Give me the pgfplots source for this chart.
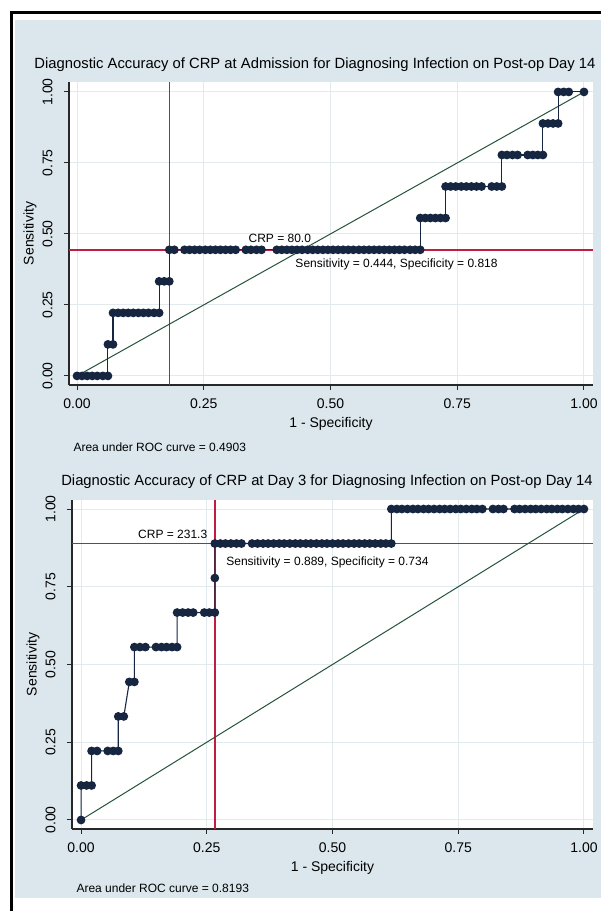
\documentclass[border=0pt]{standalone}
\usepackage{fontspec}
\setmainfont{Liberation Sans}
\usepackage{pgfplots}
\pgfplotsset{compat=1.18}
\definecolor{bgblue}{RGB}{219,231,237}
\definecolor{gridc}{RGB}{226,234,238}
\definecolor{rocnavy}{RGB}{22,38,64}
\definecolor{diagg}{RGB}{38,84,58}
\definecolor{refred}{RGB}{190,30,65}
\definecolor{axc}{RGB}{40,40,40}
\newcommand{\fs}[1]{\fontsize{#1}{#1}\selectfont}
\pgfplotsset{
  rocax/.style={
    scale only axis,
    axis x line*=bottom, axis y line*=left,
    axis line style={axc, line width=1.2pt},
    axis background/.style={fill=white},
    grid=major, grid style={gridc, line width=1pt},
    xtick={0,0.25,0.5,0.75,1}, xticklabels={0.00,0.25,0.50,0.75,1.00},
    ytick={0,0.25,0.5,0.75,1}, yticklabels={0.00,0.25,0.50,0.75,1.00},
    tick align=outside, major tick length=5pt,
    tick style={axc, line width=1pt},
    /pgf/number format/assume math mode=true,
    ticklabel style={font=\fs{14}},
    yticklabel style={rotate=90, anchor=south, yshift=8pt},
    xticklabel shift=5pt,
    xlabel={1 - Specificity}, ylabel={Sensitivity},
    every axis x label/.style={at={(rel axis cs:0.5,0)}, anchor=center, yshift=-38.5pt, font=\fs{14}},
    every axis y label/.style={at={(rel axis cs:0,0.5)}, anchor=center, xshift=-39pt, rotate=90, font=\fs{14}},
    clip=false,
  },
  roc/.style={color=rocnavy, line width=1.1pt, mark=*, mark size=3.8pt,
    mark options={fill=rocnavy, draw=rocnavy}},
}
\begin{document}
\begin{tikzpicture}
\useasboundingbox (0pt,0pt) rectangle (601pt,911pt);
\fill[white] (0pt,0pt) rectangle (601pt,911pt);
\fill[bgblue] (15pt,13pt) rectangle (601pt,891pt);
\draw[black, line width=3pt] (11pt,0pt) -- (11pt,898.5pt) -- (601pt,898.5pt);
\node[font=\fs{14.8}] at (315pt,846pt) {Diagnostic Accuracy of CRP at Admission for Diagnosing Infection on Post-op Day 14};
\node[font=\fs{12}, anchor=west] at (70pt,464pt) {Area under ROC curve = 0.4903};
\node[font=\fs{14.8}] at (327pt,429pt) {Diagnostic Accuracy of CRP at Day 3 for Diagnosing Infection on Post-op Day 14};
\node[font=\fs{12}, anchor=west] at (73pt,23pt) {Area under ROC curve = 0.8193};

% ---------- top axis ----------
\begin{axis}[rocax, at={(69pt,526pt)}, anchor=south west, width=524pt, height=303pt,
  xmin=-0.0158, xmax=1.0178, ymin=-0.032, ymax=1.035]
\addplot[color=refred, line width=1.4pt] coordinates {(0.182,-0.032) (0.182,1.035)};
\addplot[color=refred, line width=1.4pt] coordinates {(-0.0158,0.444) (1.0178,0.444)};
\addplot[color=diagg, line width=1pt] coordinates {(0,0) (1,1)};
\addplot[roc] coordinates {
(0.000,0) (0.010,0) (0.020,0) (0.030,0) (0.040,0) (0.051,0) (0.061,0)
(0.061,0.111) (0.071,0.111)
(0.071,0.222) (0.081,0.222) (0.091,0.222) (0.101,0.222) (0.111,0.222) (0.121,0.222) (0.131,0.222) (0.141,0.222) (0.152,0.222) (0.162,0.222)
(0.162,0.333) (0.172,0.333) (0.182,0.333)
(0.182,0.444) (0.192,0.444) (0.212,0.444) (0.222,0.444) (0.232,0.444) (0.242,0.444) (0.253,0.444) (0.263,0.444) (0.273,0.444) (0.283,0.444) (0.293,0.444) (0.303,0.444) (0.313,0.444)
(0.333,0.444) (0.343,0.444) (0.354,0.444) (0.364,0.444)
(0.394,0.444) (0.404,0.444) (0.414,0.444) (0.424,0.444) (0.434,0.444) (0.444,0.444) (0.455,0.444) (0.465,0.444) (0.475,0.444) (0.485,0.444) (0.495,0.444) (0.505,0.444) (0.515,0.444) (0.525,0.444) (0.535,0.444) (0.545,0.444) (0.556,0.444) (0.566,0.444) (0.576,0.444) (0.586,0.444) (0.596,0.444) (0.606,0.444) (0.616,0.444) (0.626,0.444) (0.636,0.444) (0.646,0.444) (0.657,0.444) (0.667,0.444) (0.677,0.444)
(0.677,0.556) (0.687,0.556) (0.697,0.556) (0.707,0.556) (0.717,0.556) (0.727,0.556)
(0.727,0.667) (0.737,0.667) (0.747,0.667) (0.758,0.667) (0.768,0.667) (0.778,0.667) (0.788,0.667) (0.798,0.667) (0.818,0.667) (0.828,0.667) (0.838,0.667)
(0.838,0.778) (0.848,0.778) (0.859,0.778) (0.869,0.778) (0.889,0.778) (0.899,0.778) (0.909,0.778) (0.919,0.778)
(0.919,0.889) (0.929,0.889) (0.939,0.889) (0.949,0.889)
(0.949,1) (0.960,1) (0.970,1) (1.000,1)
};
\node[font=\fs{12}] at (axis cs:0.400,0.486) {CRP = 80.0};
\node[font=\fs{12}, anchor=west] at (axis cs:0.424,0.391) {Sensitivity = 0.444, Specificity = 0.818};
\end{axis}

% ---------- bottom axis ----------
\begin{axis}[rocax, at={(72pt,82pt)}, anchor=south west, width=521pt, height=329pt,
  xmin=-0.018, xmax=1.018, ymin=-0.029, ymax=1.029]
\addplot[color=refred, line width=1.4pt] coordinates {(0.266,-0.029) (0.266,1.029)};
\addplot[color=refred, line width=1.4pt] coordinates {(-0.018,0.889) (1.018,0.889)};
\addplot[color=diagg, line width=1pt] coordinates {(0,0) (1,1)};
\addplot[roc] coordinates {
(0,0)
(0,0.111) (0.011,0.111) (0.021,0.111)
(0.021,0.222) (0.032,0.222) (0.053,0.222) (0.064,0.222) (0.074,0.222)
(0.074,0.333) (0.085,0.333)
(0.096,0.444) (0.106,0.444)
(0.106,0.556) (0.117,0.556) (0.128,0.556) (0.149,0.556) (0.160,0.556) (0.170,0.556) (0.181,0.556) (0.191,0.556)
(0.191,0.667) (0.202,0.667) (0.213,0.667) (0.223,0.667) (0.245,0.667) (0.255,0.667) (0.266,0.667)
(0.266,0.778)
(0.266,0.889) (0.277,0.889) (0.287,0.889) (0.298,0.889) (0.309,0.889) (0.319,0.889) (0.340,0.889) (0.351,0.889) (0.362,0.889) (0.372,0.889) (0.383,0.889) (0.394,0.889) (0.404,0.889) (0.415,0.889) (0.426,0.889) (0.436,0.889) (0.447,0.889) (0.457,0.889) (0.468,0.889) (0.479,0.889) (0.489,0.889) (0.500,0.889) (0.511,0.889) (0.521,0.889) (0.532,0.889) (0.543,0.889) (0.553,0.889) (0.564,0.889) (0.574,0.889) (0.585,0.889) (0.596,0.889) (0.606,0.889) (0.617,0.889)
(0.617,1) (0.628,1) (0.638,1) (0.649,1) (0.660,1) (0.670,1) (0.681,1) (0.691,1) (0.702,1) (0.713,1) (0.723,1) (0.734,1) (0.745,1) (0.755,1) (0.766,1) (0.777,1) (0.787,1) (0.798,1) (0.819,1) (0.830,1) (0.840,1) (0.862,1) (0.872,1) (0.883,1) (0.894,1) (0.904,1) (0.915,1) (0.926,1) (0.936,1) (0.947,1) (0.957,1) (0.968,1) (0.979,1) (0.989,1) (1.000,1)
};
\node[font=\fs{12}, anchor=east] at (axis cs:0.258,0.920) {CRP = 231.3};
\node[font=\fs{12}, anchor=west] at (axis cs:0.282,0.827) {Sensitivity = 0.889, Specificity = 0.734};
\end{axis}
\end{tikzpicture}
\end{document}
